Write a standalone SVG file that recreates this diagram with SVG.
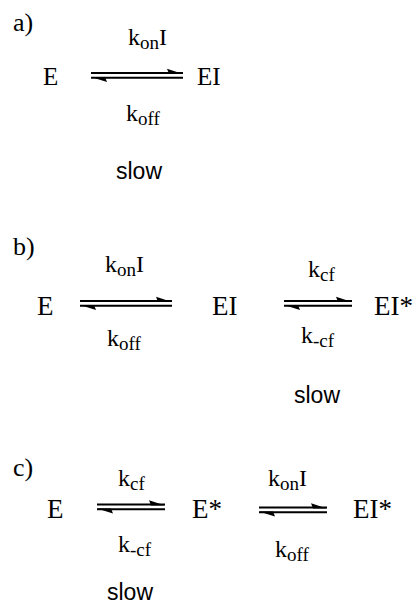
<svg xmlns="http://www.w3.org/2000/svg" xmlns:xlink="http://www.w3.org/1999/xlink" width="418" height="608" viewBox="0 0 418 608">
<style>
.lbl{font-family:"Liberation Serif","Times New Roman",serif;font-size:26px;fill:#000}
.sp{font-family:"Liberation Serif","Times New Roman",serif;font-size:25px;fill:#000}
.spb{font-family:"Liberation Serif","Times New Roman",serif;font-size:27px;fill:#000}
.k{font-family:"Liberation Serif","Times New Roman",serif;font-size:24px;fill:#000}
.sub{font-size:19px}
.slow{font-family:"Liberation Sans",Arial,sans-serif;font-size:23px;fill:#000}
.ln{stroke:#000;stroke-width:1.9;fill:none}
.barb{fill:#000;stroke:none}
</style>
<defs>
<g id="eqLong">
<line class="ln" x1="0" y1="0" x2="92" y2="0"/>
<polygon class="barb" points="92,0.9 76,-4.2 78,0.9"/>
<line class="ln" x1="0" y1="4.8" x2="92" y2="4.8"/>
<polygon class="barb" points="0,3.9 16,9 14,3.9"/>
</g>
<g id="eqShort">
<line class="ln" x1="0" y1="0" x2="68" y2="0"/>
<polygon class="barb" points="68,0.9 52,-4.2 54,0.9"/>
<line class="ln" x1="0" y1="4.8" x2="68" y2="4.8"/>
<polygon class="barb" points="0,3.9 16,9 14,3.9"/>
</g>
</defs>

<!-- panel labels -->
<g id="panel-a-label"><text class="lbl" x="13" y="31">a)</text></g>
<g id="panel-b-label"><text class="lbl" x="13" y="255">b)</text></g>
<g id="panel-c-label"><text class="lbl" x="13" y="476">c)</text></g>

<!-- panel a -->
<g id="a-E"><text class="sp" x="43" y="85">E</text></g>
<g id="a-EI"><text class="sp" x="197" y="85">EI</text></g>

<!-- panel b -->
<g id="b-E"><text class="spb" x="37" y="315">E</text></g>
<g id="b-EI"><text class="spb" x="212" y="315">EI</text></g>
<g id="b-EIstar"><text class="spb" x="374" y="315">EI*</text></g>

<!-- panel c -->
<g id="c-E"><text class="spb" x="47" y="518">E</text></g>
<g id="c-Estar"><text class="spb" x="192" y="518">E*</text></g>
<g id="c-EIstar"><text class="spb" x="353" y="518">EI*</text></g>

<g id="connectors">
<use xlink:href="#eqLong" x="91" y="73"/>
<use xlink:href="#eqLong" x="80" y="301"/>
<use xlink:href="#eqShort" x="284" y="301"/>
<use xlink:href="#eqShort" x="97" y="504.5"/>
<use xlink:href="#eqShort" x="259" y="507.5"/>

<!-- rate labels -->
<text class="k" x="128" y="45">k<tspan class="sub" dy="4">on</tspan><tspan dy="-4">I</tspan></text>
<text class="k" x="126" y="121">k<tspan class="sub" dy="4">off</tspan></text>
<text class="slow" x="116" y="179">slow</text>

<text class="k" x="105" y="272">k<tspan class="sub" dy="4">on</tspan><tspan dy="-4">I</tspan></text>
<text class="k" x="107" y="346">k<tspan class="sub" dy="4">off</tspan></text>
<text class="k" x="308" y="277">k<tspan class="sub" dy="4">cf</tspan></text>
<text class="k" x="301" y="343">k<tspan class="sub" dy="4">-cf</tspan></text>
<text class="slow" x="294" y="403">slow</text>

<text class="k" x="118" y="486">k<tspan class="sub" dy="4">cf</tspan></text>
<text class="k" x="268" y="486">k<tspan class="sub" dy="4">on</tspan><tspan dy="-4">I</tspan></text>
<text class="k" x="118" y="552">k<tspan class="sub" dy="4">-cf</tspan></text>
<text class="k" x="275" y="557">k<tspan class="sub" dy="4">off</tspan></text>
<text class="slow" x="107" y="600">slow</text>
</g>
</svg>
